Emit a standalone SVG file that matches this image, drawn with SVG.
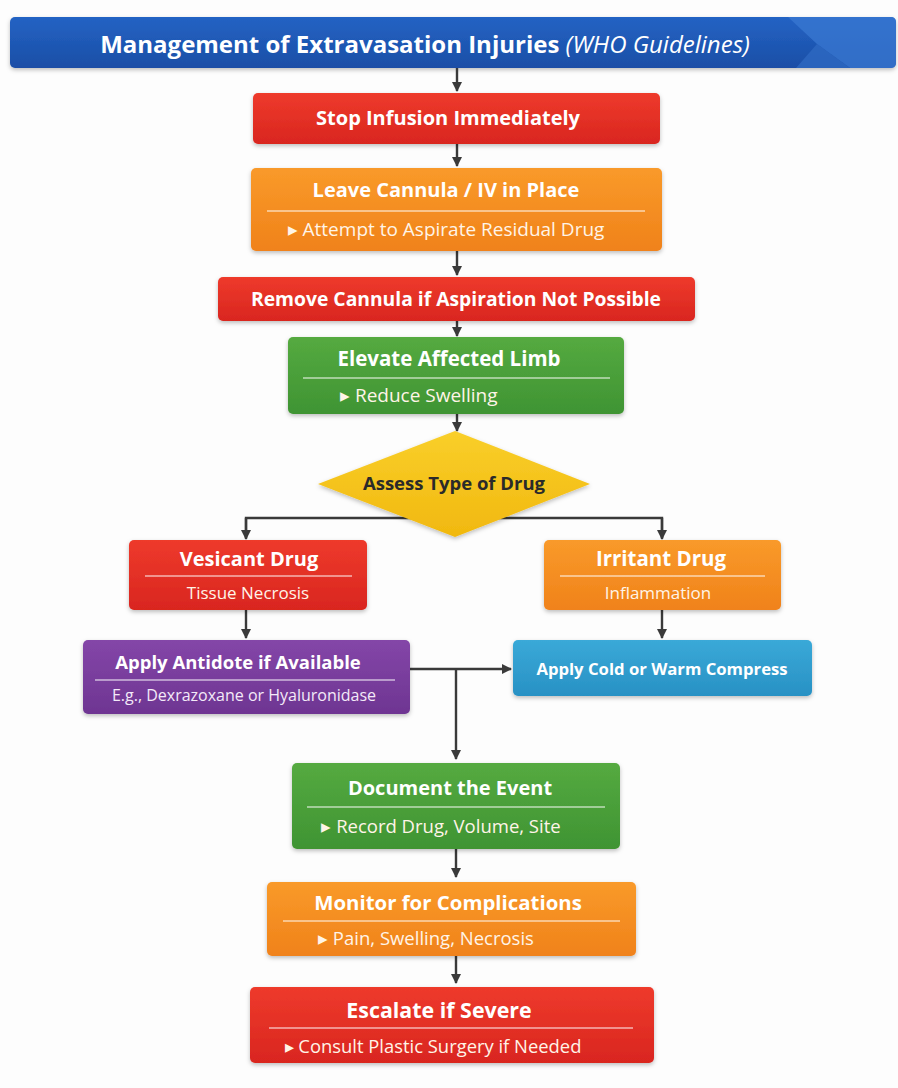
<svg xmlns="http://www.w3.org/2000/svg" width="898" height="1088" viewBox="0 0 898 1088">
<defs>
<linearGradient id="gTitle" x1="0" y1="0" x2="0" y2="1"><stop offset="0" stop-color="#2463c4"/><stop offset="1" stop-color="#1a4ea6"/></linearGradient>
<linearGradient id="gRed" x1="0" y1="0" x2="0" y2="1"><stop offset="0" stop-color="#ee3a2c"/><stop offset="1" stop-color="#d9261f"/></linearGradient>
<linearGradient id="gOrange" x1="0" y1="0" x2="0" y2="1"><stop offset="0" stop-color="#f99a2a"/><stop offset="1" stop-color="#f0821a"/></linearGradient>
<linearGradient id="gGreen" x1="0" y1="0" x2="0" y2="1"><stop offset="0" stop-color="#55aa40"/><stop offset="1" stop-color="#3f9433"/></linearGradient>
<linearGradient id="gPurple" x1="0" y1="0" x2="0" y2="1"><stop offset="0" stop-color="#8446a8"/><stop offset="1" stop-color="#6e3592"/></linearGradient>
<linearGradient id="gBlue" x1="0" y1="0" x2="0" y2="1"><stop offset="0" stop-color="#3aa9d8"/><stop offset="1" stop-color="#2891c4"/></linearGradient>
<linearGradient id="gYellow" x1="0" y1="0" x2="0" y2="1"><stop offset="0" stop-color="#f9cf2a"/><stop offset="1" stop-color="#f1b80f"/></linearGradient>
<filter id="sh" x="-5%" y="-10%" width="110%" height="130%"><feDropShadow dx="0" dy="2" stdDeviation="2" flood-color="#000" flood-opacity="0.25"/></filter>
<marker id="ah" viewBox="0 0 10 10" refX="9" refY="5" markerWidth="10" markerHeight="10" markerUnits="userSpaceOnUse" orient="auto"><path d="M0,0 L10,5 L0,10 z" fill="#3a3a3a"/></marker>
</defs>
<style>
.t{font-family:"Open Sans","Liberation Sans",sans-serif;fill:#fff;text-anchor:middle}
.b{font-weight:700;font-size:19px}
.s{font-weight:400;font-size:18px;fill:#fff4e8}
.ln{stroke:#ffffff;stroke-opacity:0.65;stroke-width:1.3}
.c{fill:none;stroke:#3a3a3a;stroke-width:2.4}
.ca{fill:none;stroke:#3a3a3a;stroke-width:2.4;marker-end:url(#ah)}
</style>
<rect width="898" height="1088" fill="#fdfdfd"/>

<g id="title">
<rect x="10" y="17" width="886" height="51" rx="5" fill="url(#gTitle)" filter="url(#sh)"/>
<path d="M788,17 L891,17 Q896,17 896,22 L896,63 Q896,68 891,68 L850,68 L817,44 Z" fill="#3a78d2" opacity="0.75"/>
<path d="M817,44 L850,68 L796,68 Z" fill="#2e69c2" opacity="0.8"/>
<text x="425" y="53" class="t" style="font-size:24px"><tspan font-weight="700">Management of Extravasation Injuries </tspan><tspan font-style="italic" font-weight="400">(WHO Guidelines)</tspan></text>
</g>

<g id="connectors">
<line x1="457" y1="68" x2="457" y2="91" class="ca"/>
<line x1="457" y1="144" x2="457" y2="166" class="ca"/>
<line x1="457" y1="251" x2="457" y2="275" class="ca"/>
<line x1="457" y1="321" x2="457" y2="336" class="ca"/>
<line x1="457" y1="414" x2="457" y2="431" class="ca"/>
<polyline points="246,538 246,518 662,518 662,538" class="c"/>
<line x1="246" y1="518" x2="246" y2="539" class="ca"/>
<line x1="662" y1="518" x2="662" y2="539" class="ca"/>
<line x1="246" y1="610" x2="246" y2="638" class="ca"/>
<line x1="662" y1="610" x2="662" y2="638" class="ca"/>
<line x1="410" y1="669" x2="511" y2="669" class="ca"/>
<line x1="456" y1="669" x2="456" y2="759" class="ca"/>
<line x1="456" y1="849" x2="456" y2="877" class="ca"/>
<line x1="456" y1="956" x2="456" y2="983" class="ca"/>
</g>

<g id="stop">
<rect x="253" y="93" width="407" height="51" rx="5" fill="url(#gRed)" filter="url(#sh)"/>
<text x="448" y="125" class="t b" style="font-size:20px">Stop Infusion Immediately</text>
</g>

<g id="leave">
<rect x="251" y="168" width="411" height="83" rx="5" fill="url(#gOrange)" filter="url(#sh)"/>
<text x="446" y="197" class="t b" style="font-size:20px">Leave Cannula / IV in Place</text>
<line x1="267" y1="211" x2="645" y2="211" class="ln"/>
<text x="446" y="236" class="t s" style="font-size:19px">▸ Attempt to Aspirate Residual Drug</text>
</g>

<g id="remove">
<rect x="218" y="277" width="477" height="44" rx="5" fill="url(#gRed)" filter="url(#sh)"/>
<text x="456" y="306" class="t b" style="font-size:19.3px">Remove Cannula if Aspiration Not Possible</text>
</g>

<g id="elevate">
<rect x="288" y="337" width="336" height="77" rx="5" fill="url(#gGreen)" filter="url(#sh)"/>
<text x="449" y="366" class="t b" style="font-size:20.5px">Elevate Affected Limb</text>
<line x1="303" y1="378" x2="610" y2="378" class="ln"/>
<text x="340" y="402" class="t s" style="text-anchor:start;font-size:19px">▸ Reduce Swelling</text>
</g>

<g id="assess">
<polygon points="455,431 590,484 455,537 318,484" fill="url(#gYellow)" filter="url(#sh)"/>
<text x="454" y="490" class="t b" style="fill:#2a2a2a;font-size:18.5px">Assess Type of Drug</text>
</g>

<g id="vesicant">
<rect x="129" y="540" width="238" height="70" rx="5" fill="url(#gRed)" filter="url(#sh)"/>
<text x="249" y="566" class="t b" style="font-size:20px">Vesicant Drug</text>
<line x1="145" y1="576" x2="352" y2="576" class="ln"/>
<text x="248" y="599" class="t s" style="font-size:17px">Tissue Necrosis</text>
</g>

<g id="irritant">
<rect x="544" y="540" width="237" height="70" rx="5" fill="url(#gOrange)" filter="url(#sh)"/>
<text x="661" y="566" class="t b" style="font-size:20.5px">Irritant Drug</text>
<line x1="560" y1="576" x2="765" y2="576" class="ln"/>
<text x="658" y="599" class="t s" style="font-size:17px">Inflammation</text>
</g>

<g id="antidote">
<rect x="83" y="640" width="327" height="74" rx="5" fill="url(#gPurple)" filter="url(#sh)"/>
<text x="238" y="669" class="t b" style="font-size:18.5px">Apply Antidote if Available</text>
<line x1="95" y1="680" x2="395" y2="680" class="ln"/>
<text x="244" y="701" class="t s" style="font-size:16px;fill:#f3eaf8">E.g., Dexrazoxane or Hyaluronidase</text>
</g>

<g id="compress">
<rect x="513" y="640" width="299" height="56" rx="5" fill="url(#gBlue)" filter="url(#sh)"/>
<text x="662" y="675" class="t b" style="font-size:16.7px">Apply Cold or Warm Compress</text>
</g>

<g id="document">
<rect x="292" y="763" width="328" height="86" rx="5" fill="url(#gGreen)" filter="url(#sh)"/>
<text x="450" y="795" class="t b" style="font-size:20px">Document the Event</text>
<line x1="307" y1="807" x2="605" y2="807" class="ln"/>
<text x="441" y="833" class="t s" style="font-size:18.5px">▸ Record Drug, Volume, Site</text>
</g>

<g id="monitor">
<rect x="267" y="882" width="369" height="74" rx="5" fill="url(#gOrange)" filter="url(#sh)"/>
<text x="448" y="910" class="t b" style="font-size:20.4px">Monitor for Complications</text>
<line x1="283" y1="921" x2="620" y2="921" class="ln"/>
<text x="426" y="945" class="t s" style="font-size:18.5px">▸ Pain, Swelling, Necrosis</text>
</g>

<g id="escalate">
<rect x="250" y="987" width="404" height="76" rx="5" fill="url(#gRed)" filter="url(#sh)"/>
<text x="439" y="1018" class="t b" style="font-size:21.4px">Escalate if Severe</text>
<line x1="269" y1="1028" x2="633" y2="1028" class="ln"/>
<text x="433" y="1053" class="t s" style="font-size:18.4px">▸ Consult Plastic Surgery if Needed</text>
</g>
</svg>
